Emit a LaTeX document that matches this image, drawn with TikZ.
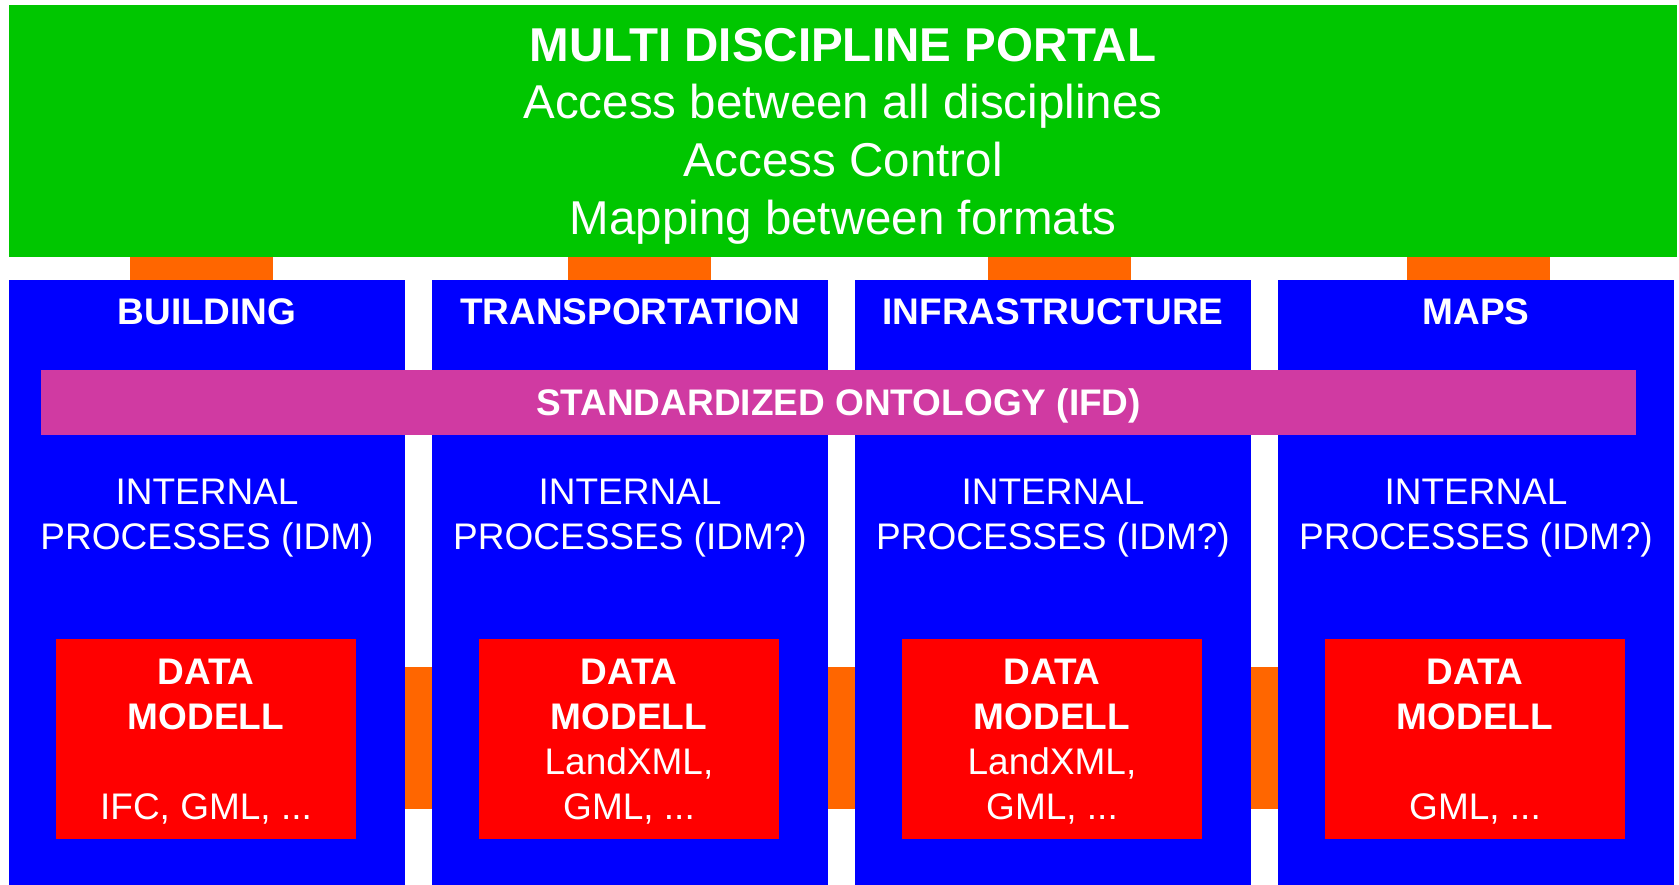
\documentclass[tikz,border=0pt]{standalone}
\usepackage{fontspec}
\setmainfont{Liberation Sans}
\usetikzlibrary{positioning}
\definecolor{portalgreen}{RGB}{0,198,0}
\definecolor{discblue}{RGB}{0,0,255}
\definecolor{ontomagenta}{RGB}{208,58,162}
\definecolor{modelred}{RGB}{255,0,0}
\definecolor{linkorange}{RGB}{255,102,0}

\begin{document}
\begin{tikzpicture}[x=1pt,y=-1pt,
  box/.style={inner sep=0pt,outer sep=0pt,anchor=north west},
  txt/.style={text=white,anchor=base,inner sep=0pt,outer sep=0pt,align=center,font=\fontsize{37}{44.5}\selectfont},
  bold txt/.style={txt,font=\fontsize{37}{44.5}\selectfont\bfseries},
  tab/.style={draw=linkorange,line width=143pt},
  side/.style={draw=linkorange,line width=142pt}]
\useasboundingbox (0,0) rectangle (1679,885);
% portal on top
\node[box,fill=portalgreen,minimum width=1668pt,minimum height=252pt] (portal) at (9,5) {};
\node[txt,font=\fontsize{47.5}{58}\selectfont\bfseries] (title) at (843,62) {MULTI DISCIPLINE PORTAL};
\node[txt,font=\fontsize{47.5}{58}\selectfont] (tasks) at (843,235) {Access between all disciplines\\Access Control\\Mapping between formats};
% discipline columns
\foreach \i/\name/\head/\idm/\fmt in {0/bld/BUILDING/{(IDM)}/{IFC, GML, ...},
    1/trn/TRANSPORTATION/{(IDM?)}/{LandXML,\\GML, ...},
    2/inf/INFRASTRUCTURE/{(IDM?)}/{LandXML,\\GML, ...},
    3/map/MAPS/{(IDM?)}/{GML, ...}} {
  \node[box,fill=discblue,minimum width=396pt,minimum height=605pt] (\name) at ({9+423*\i},280) {};
  \node[bold txt] (\name head) at ({207+423*\i},325) {\head};
  \node[txt] (\name idm) at ({207+423*\i},549) {INTERNAL\\PROCESSES \idm};
  \node[box,fill=modelred,minimum width=300pt,minimum height=200pt] (\name dm) at ({56+423*\i},639) {};
  \node[bold txt] (\name dmhead) at ({206+423*\i},729) {DATA\\MODELL};
  \node[txt] (\name fmt) at ({206+423*\i},819) {\fmt};
}
% ontology band
\node[box,fill=ontomagenta,minimum width=1595pt,minimum height=65pt] (onto) at (41,370) {};
\node[bold txt] (ontolabel) at (838.5,415) {STANDARDIZED ONTOLOGY (IFD)};
% links portal - columns
\foreach \name/\tx in {bld/201,trn/639.5,inf/1059.5,map/1478.5} {
  \coordinate (t\name) at (\tx,268);
  \draw[tab] (t\name |- portal.south) -- (t\name |- \name.north);
}
% links between columns
\coordinate (sidey) at (0,738);
\draw[side] (bld.east |- sidey) -- (trn.west |- sidey);
\draw[side] (trn.east |- sidey) -- (inf.west |- sidey);
\draw[side] (inf.east |- sidey) -- (map.west |- sidey);
\end{tikzpicture}
\end{document}
